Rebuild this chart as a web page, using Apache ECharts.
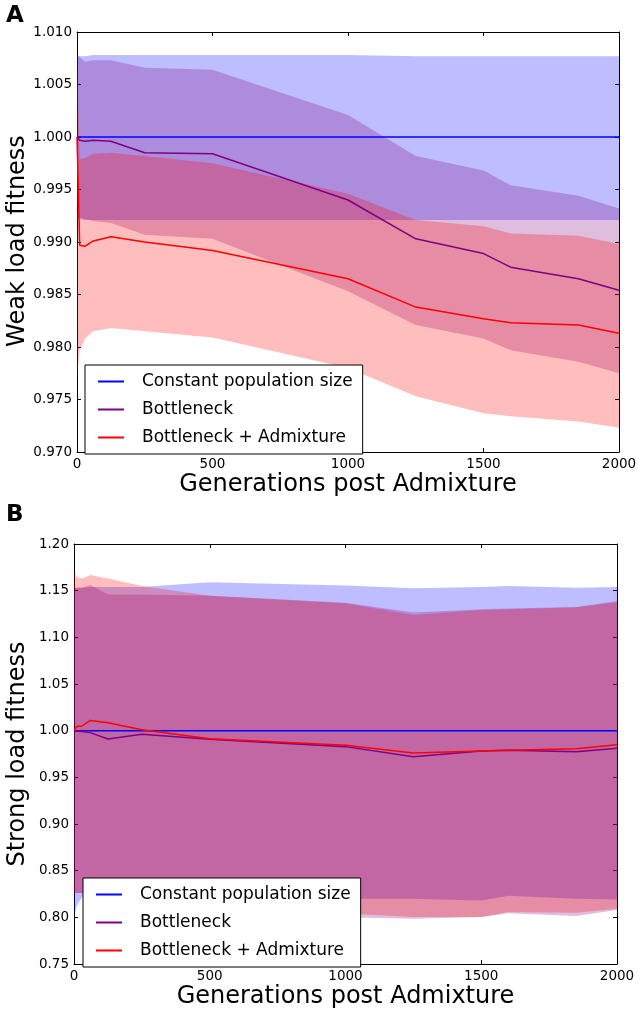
<!DOCTYPE html>
<html>
<head>
<meta charset="utf-8">
<script src="https://cdn.jsdelivr.net/npm/echarts@6/dist/echarts.min.js"></script>
<style>
html,body{margin:0;padding:0;background:#fff;}
#chart{width:638px;height:1015px;}
</style>
</head>
<body>
<div id="chart"></div>
<script>
// Generations (shared x grid)
const xGen = [0, 10, 30, 60, 125, 250, 500, 1000, 1250, 1500, 1600, 1850, 2000];

// Panel A: weak load fitness
const aConstMean = [1.0000, 1.0000, 1.0000, 1.0000, 1.0000, 1.0000, 1.0000, 1.0000, 1.0000, 1.0000, 1.0000, 1.0000, 1.0000];
const aConstLo   = [0.9922, 0.9922, 0.9921, 0.9921, 0.9921, 0.9921, 0.9921, 0.9921, 0.9921, 0.9921, 0.9921, 0.9921, 0.9921];
const aConstHi   = [1.0078, 1.0077, 1.0077, 1.0078, 1.0078, 1.0078, 1.0078, 1.0078, 1.0077, 1.0077, 1.0077, 1.0077, 1.0077];
const aBottMean  = [1.0000, 0.9997, 0.9996, 0.9997, 0.9996, 0.9985, 0.9984, 0.9940, 0.9903, 0.9889, 0.9876, 0.9865, 0.9854];
const aBottLo    = [0.9922, 0.9923, 0.9922, 0.9920, 0.9918, 0.9907, 0.9903, 0.9853, 0.9821, 0.9808, 0.9797, 0.9786, 0.9775];
const aBottHi    = [1.0078, 1.0076, 1.0072, 1.0073, 1.0073, 1.0066, 1.0064, 1.0021, 0.9982, 0.9968, 0.9954, 0.9944, 0.9932];
const aAdmMean   = [1.0000, 0.9897, 0.9896, 0.9901, 0.9905, 0.9900, 0.9892, 0.9865, 0.9838, 0.9827, 0.9823, 0.9821, 0.9813];
const aAdmLo     = [0.9770, 0.9797, 0.9808, 0.9815, 0.9818, 0.9815, 0.9809, 0.9780, 0.9753, 0.9737, 0.9734, 0.9729, 0.9723];
const aAdmHi     = [1.0078, 0.9979, 0.9980, 0.9984, 0.9985, 0.9982, 0.9975, 0.9946, 0.9921, 0.9915, 0.9908, 0.9906, 0.9898];

// Panel B: strong load fitness
const bConstMean = [1.000, 1.000, 1.000, 1.000, 1.000, 1.000, 1.000, 1.000, 1.000, 1.000, 1.000, 1.000, 1.000];
const bConstLo   = [0.800, 0.812, 0.822, 0.823, 0.823, 0.822, 0.821, 0.820, 0.820, 0.818, 0.823, 0.820, 0.819];
const bConstHi   = [1.1525, 1.153, 1.153, 1.154, 1.154, 1.154, 1.159, 1.1555, 1.1525, 1.154, 1.155, 1.153, 1.154];
const bBottMean  = [1.000, 0.9995, 0.9990, 0.9979, 0.9911, 0.9961, 0.9907, 0.9829, 0.9721, 0.9782, 0.9790, 0.9775, 0.9811];
const bBottLo    = [0.826, 0.826, 0.826, 0.820, 0.812, 0.806, 0.802, 0.800, 0.7986, 0.8004, 0.8043, 0.8014, 0.8079];
const bBottHi    = [1.1536, 1.153, 1.153, 1.156, 1.146, 1.146, 1.1446, 1.137, 1.1265, 1.130, 1.131, 1.1325, 1.139];
const bAdmMean   = [1.000, 1.0045, 1.0050, 1.0110, 1.0085, 1.0010, 0.9914, 0.9843, 0.9761, 0.9782, 0.9790, 0.9807, 0.9850];
const bAdmLo     = [0.826, 0.826, 0.826, 0.822, 0.815, 0.810, 0.806, 0.804, 0.8004, 0.8004, 0.8057, 0.805, 0.8093];
const bAdmHi     = [1.170, 1.1646, 1.163, 1.1668, 1.163, 1.155, 1.1446, 1.1364, 1.1239, 1.1293, 1.130, 1.1321, 1.1375];

const seriesNames = ['Constant population size', 'Bottleneck', 'Bottleneck + Admixture'];
const yTitles = ['Weak load fitness', 'Strong load fitness'];

const FONT = 'DejaVu Sans';
const lineColors = ['#0000ff', '#800080', '#ff0000'];
const bandColors = ['rgba(0,0,255,0.26)', 'rgba(128,0,128,0.26)', 'rgba(255,0,0,0.26)'];

function pairs(arr) { return xGen.map((x, i) => [x, arr[i]]); }

// Shaded band: one polygon through the axis scales (api.coord)
function band(xi, yi, lo, hi, color) {
  return {
    type: 'custom', xAxisIndex: xi, yAxisIndex: yi, silent: true, z: 1,
    data: xGen.map((x, i) => [x, lo[i], hi[i]]),
    encode: { x: 0, y: [1, 2] },
    renderItem: function (params, api) {
      if (params.dataIndex !== 0) return null;
      const pts = [];
      for (let i = 0; i < xGen.length; i++) pts.push(api.coord([xGen[i], hi[i]]));
      for (let i = xGen.length - 1; i >= 0; i--) pts.push(api.coord([xGen[i], lo[i]]));
      return { type: 'polygon', shape: { points: pts }, style: { fill: color, stroke: null } };
    }
  };
}
function meanLine(xi, yi, arr, idx) {
  return { name: seriesNames[idx], type: 'line', xAxisIndex: xi, yAxisIndex: yi,
    data: pairs(arr), symbol: 'none', lineStyle: { color: lineColors[idx], width: 1.5 },
    itemStyle: { color: lineColors[idx] }, z: 3, silent: true };
}

function xAx(gi, bottom) {
  return {
    type: 'value', gridIndex: gi, position: bottom ? 'bottom' : 'top',
    min: 0, max: 2000, interval: 500,
    axisLine: { show: true, onZero: false, lineStyle: { color: '#000', width: 1 } },
    axisTick: { show: true, inside: true, length: 4, lineStyle: { color: '#000' } },
    axisLabel: { show: bottom, fontFamily: FONT, fontSize: 13.5, color: '#000', margin: 5,
      formatter: v => String(v) },
    splitLine: { show: false },
    name: bottom ? 'Generations post Admixture' : '',
    nameLocation: 'middle', nameGap: 21,
    nameTextStyle: { fontFamily: FONT, fontSize: 24, color: '#000' }
  };
}
function yAx(gi, left, min, max, interval, dec) {
  return {
    type: 'value', gridIndex: gi, position: left ? 'left' : 'right',
    min: min, max: max, interval: interval,
    axisLine: { show: true, onZero: false, lineStyle: { color: '#000', width: 1 } },
    axisTick: { show: true, inside: true, length: 4, lineStyle: { color: '#000' } },
    axisLabel: { show: left, fontFamily: FONT, fontSize: 13.5, color: '#000', margin: 5,
      formatter: v => v.toFixed(dec) },
    splitLine: { show: false }
  };
}

function legendAt(left, top) {
  return {
    data: seriesNames, orient: 'vertical', left: left, top: top,
    padding: [8, 10, 8, 12], itemGap: 11, itemWidth: 26, itemHeight: 14,
    borderColor: '#000', borderWidth: 1, backgroundColor: '#fff',
    selectedMode: false,
    itemStyle: { opacity: 0 },
    textStyle: { fontFamily: FONT, fontSize: 17, color: '#000', lineHeight: 14, padding: [0, 0, 0, 13] }
  };
}

function yTitle(text, cy) {
  return { type: 'text', x: 18, y: cy, rotation: Math.PI / 2, silent: true,
    style: { text: text, font: '24px "DejaVu Sans"', fill: '#000', textAlign: 'center', textVerticalAlign: 'middle' } };
}

const series = [
  band(0, 0, aConstLo, aConstHi, bandColors[0]),
  band(0, 0, aBottLo, aBottHi, bandColors[1]),
  band(0, 0, aAdmLo, aAdmHi, bandColors[2]),
  meanLine(0, 0, aConstMean, 0), meanLine(0, 0, aBottMean, 1), meanLine(0, 0, aAdmMean, 2),
  band(2, 2, bConstLo, bConstHi, bandColors[0]),
  band(2, 2, bBottLo, bBottHi, bandColors[1]),
  band(2, 2, bAdmLo, bAdmHi, bandColors[2]),
  meanLine(2, 2, bConstMean, 0), meanLine(2, 2, bBottMean, 1), meanLine(2, 2, bAdmMean, 2)
];

const option = {
  animation: false,
  backgroundColor: '#fff',
  title: [
    { text: 'A', left: 6, top: 5, padding: 0, textStyle: { fontFamily: FONT, fontSize: 23, fontWeight: 'bold', color: '#000' } },
    { text: 'B', left: 6, top: 504, padding: 0, textStyle: { fontFamily: FONT, fontSize: 23, fontWeight: 'bold', color: '#000' } }
  ],
  graphic: [yTitle(yTitles[0], 241), yTitle(yTitles[1], 754)],
  grid: [
    { left: 77, top: 32, width: 542, height: 420, containLabel: false, outerBoundsMode: 'none' },
    { left: 74, top: 544, width: 543, height: 420, containLabel: false, outerBoundsMode: 'none' }
  ],
  xAxis: [xAx(0, true), xAx(0, false), xAx(1, true), xAx(1, false)],
  yAxis: [
    yAx(0, true, 0.970, 1.010, 0.005, 3),
    yAx(0, false, 0.970, 1.010, 0.005, 3),
    yAx(1, true, 0.75, 1.20, 0.05, 2),
    yAx(1, false, 0.75, 1.20, 0.05, 2)
  ],
  legend: [legendAt(85, 365), legendAt(83, 878)],
  series: series
};

const chart = echarts.init(document.getElementById('chart'), null, { renderer: 'canvas' });
chart.setOption(option);
</script>
</body>
</html>
